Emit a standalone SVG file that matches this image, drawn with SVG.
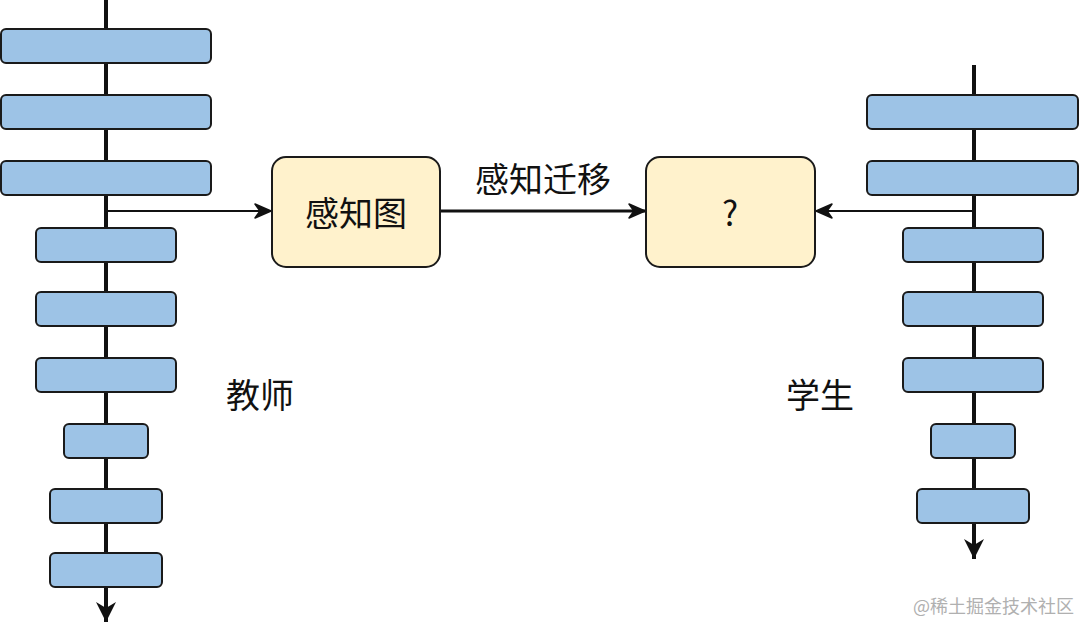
<svg xmlns="http://www.w3.org/2000/svg" width="1080" height="626" viewBox="0 0 1080 626">
<style>
.bar{fill:#9dc3e6;stroke:#1a1a1a;stroke-width:2}
.box{fill:#fff2cc;stroke:#1a1a1a;stroke-width:2}
.t{font-family:"Noto Sans CJK SC","Noto Sans",sans-serif;fill:#111;text-anchor:middle;dominant-baseline:central}
.wm{font-family:"Noto Sans CJK SC","Noto Sans",sans-serif;fill:#b0b0b0;font-size:18px}
</style>
<defs>
<marker id="ah" viewBox="0 0 20 20" refX="18" refY="10" markerWidth="20" markerHeight="20" markerUnits="userSpaceOnUse" orient="auto">
<path d="M2,3 L18,10 L2,17 L7,10 Z" fill="#111" stroke="#111" stroke-width="1.5" stroke-linejoin="round"/>
</marker>
<marker id="ahv" viewBox="0 0 24 24" refX="22" refY="12" markerWidth="24" markerHeight="24" markerUnits="userSpaceOnUse" orient="auto">
<path d="M2,2 L22,12 L2,22 L8,12 Z" fill="#111"/>
</marker>
</defs>
<g id="connectors" fill="none" stroke="#111">
<line x1="106" y1="0" x2="106" y2="622" stroke-width="4" marker-end="url(#ahv)"/>
<line x1="974" y1="65" x2="974" y2="559" stroke-width="4" marker-end="url(#ahv)"/>
<line x1="107" y1="211" x2="271" y2="211" stroke-width="2" marker-end="url(#ah)"/>
<line x1="441" y1="211" x2="645" y2="211" stroke-width="3" marker-end="url(#ah)"/>
<line x1="973" y1="211" x2="816" y2="211" stroke-width="2" marker-end="url(#ah)"/>
</g>
<g id="teacher-layers">
<rect class="bar" x="1" y="29" width="210" height="34" rx="5"/>
<rect class="bar" x="1" y="95" width="210" height="34" rx="5"/>
<rect class="bar" x="1" y="161" width="210" height="34" rx="5"/>
<rect class="bar" x="36" y="228" width="140" height="34" rx="5"/>
<rect class="bar" x="36" y="292" width="140" height="34" rx="5"/>
<rect class="bar" x="36" y="358" width="140" height="34" rx="5"/>
<rect class="bar" x="64" y="424" width="84" height="34" rx="5"/>
<rect class="bar" x="50" y="489" width="112" height="34" rx="5"/>
<rect class="bar" x="50" y="553" width="112" height="34" rx="5"/>
</g>
<g id="student-layers">
<rect class="bar" x="867" y="95" width="211" height="34" rx="5"/>
<rect class="bar" x="867" y="161" width="211" height="34" rx="5"/>
<rect class="bar" x="903" y="228" width="140" height="34" rx="5"/>
<rect class="bar" x="903" y="292" width="140" height="34" rx="5"/>
<rect class="bar" x="903" y="358" width="140" height="34" rx="5"/>
<rect class="bar" x="931" y="424" width="84" height="34" rx="5"/>
<rect class="bar" x="917" y="489" width="112" height="34" rx="5"/>
</g>
<g id="node-perception-map">
<rect class="box" x="272" y="157" width="168" height="110" rx="14"/>
<text class="t" x="356" y="211" font-size="34">感知图</text>
</g>
<g id="node-unknown">
<rect class="box" x="646" y="157" width="169" height="110" rx="14"/>
<text class="t" x="730" y="211" font-size="34">?</text>
</g>
<g id="label-transfer">
<text class="t" x="543" y="177" font-size="34">感知迁移</text>
</g>
<g id="label-teacher">
<text class="t" x="260" y="393" font-size="34">教师</text>
</g>
<g id="label-student">
<text class="t" x="820" y="393" font-size="34">学生</text>
</g>
<text class="wm" x="913" y="613">@稀土掘金技术社区</text>
</svg>
